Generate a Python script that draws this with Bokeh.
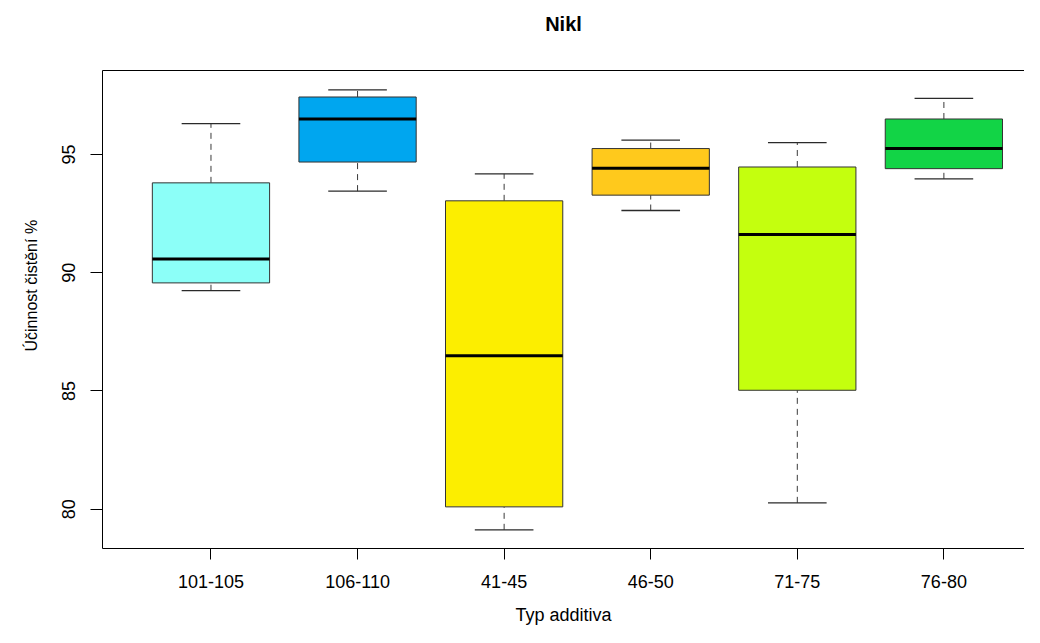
import math
from bokeh.plotting import figure
from bokeh.models import Range1d, FixedTicker, LinearAxis, ColumnDataSource, Title
from bokeh.embed import file_html
from bokeh.resources import INLINE

# ---- data ----
categories = ["101-105", "106-110", "41-45", "46-50", "71-75", "76-80"]
whisker_low = [89.24, 93.45, 79.13, 92.63, 80.27, 93.97]
q1 = [89.57, 94.68, 80.10, 93.28, 85.03, 94.40]
median = [90.58, 96.50, 86.49, 94.42, 91.62, 95.25]
q3 = [93.80, 97.43, 93.04, 95.25, 94.47, 96.50]
whisker_high = [96.30, 97.73, 94.18, 95.61, 95.50, 97.37]
colors = ["#8CFFF8", "#00A6EF", "#FCEE00", "#FFC91C", "#C4FF0E", "#12D446"]
y_ticks = [80, 85, 90, 95]

positions = list(range(1, len(categories) + 1))
box_w = 0.8
cap_w = 0.4

src = ColumnDataSource(dict(
    x=positions, lo=whisker_low, q1=q1, med=median, q3=q3, hi=whisker_high,
    color=colors,
    left=[p - box_w / 2 for p in positions], right=[p + box_w / 2 for p in positions],
    cl=[p - cap_w / 2 for p in positions], cr=[p + cap_w / 2 for p in positions],
))

FONT = "Liberation Sans"

p = figure(width=1024, height=627,
           x_range=Range1d(0.26, 6.55), y_range=Range1d(78.34, 98.55),
           output_backend="svg", toolbar_location=None,
           x_axis_location="below", y_axis_location="left",
           min_border_left=102, min_border_right=0, min_border_top=70, min_border_bottom=78)

p.grid.visible = False
p.outline_line_color = None
p.background_fill_color = "white"
p.border_fill_color = "white"

# whiskers (dashed) and caps
p.segment(x0="x", x1="x", y0="q3", y1="hi", source=src, line_color="#3a3a3a",
          line_width=1, line_dash="6 5")
p.segment(x0="x", x1="x", y0="lo", y1="q1", source=src, line_color="#3a3a3a",
          line_width=1, line_dash="6 5")
p.segment(x0="cl", x1="cr", y0="hi", y1="hi", source=src, line_color="#2a2a2a", line_width=1.3)
p.segment(x0="cl", x1="cr", y0="lo", y1="lo", source=src, line_color="#2a2a2a", line_width=1.3)

# boxes
p.quad(left="left", right="right", bottom="q1", top="q3", source=src,
       fill_color="color", line_color="#333333", line_width=1)
# medians
p.segment(x0="left", x1="right", y0="med", y1="med", source=src,
          line_color="black", line_width=3)

# axes
xa = p.xaxis[0]
xa.ticker = FixedTicker(ticks=positions)
xa.major_label_overrides = {pos: c for pos, c in zip(positions, categories)}
xa.axis_label = "Typ additiva"
ya = p.yaxis[0]
ya.ticker = FixedTicker(ticks=y_ticks)
ya.major_label_orientation = "vertical"

for ax in (xa, ya):
    ax.axis_line_color = "black"
    ax.axis_line_width = 1
    ax.major_tick_line_color = "black"
    ax.major_tick_in = 0
    ax.minor_tick_line_color = None
    ax.major_label_text_font = FONT
    ax.major_label_text_color = "black"
    ax.axis_label_text_font = FONT
    ax.axis_label_text_font_style = "normal"
    ax.axis_label_text_color = "black"

xa.major_tick_out = 11
xa.major_label_standoff = 15
xa.major_label_text_font_size = "18px"
xa.axis_label_text_font_size = "18px"
xa.axis_label_standoff = 14

ya.major_tick_out = 12
ya.major_label_standoff = 15
ya.major_label_text_font_size = "18px"

# y-axis title as a side title so it can be shifted like in the reference
ytitle = Title(text="Účinnost čistění %", align="left", offset=197, standoff=40,
               text_font=FONT, text_font_size="16px", text_font_style="normal",
               text_color="black")
p.add_layout(ytitle, "left")

# top frame line, carrying the chart title
top = LinearAxis(ticker=FixedTicker(ticks=[]), axis_line_color="black",
                 major_tick_line_color=None, minor_tick_line_color=None,
                 major_label_text_font_size="0px", major_label_standoff=0,
                 major_tick_out=0, major_tick_in=0,
                 axis_label="Nikl", axis_label_standoff=36,
                 axis_label_text_font=FONT, axis_label_text_font_size="20px",
                 axis_label_text_font_style="bold", axis_label_text_color="black")
p.add_layout(top, "above")

open("out.html", "w").write(file_html(p, INLINE))
